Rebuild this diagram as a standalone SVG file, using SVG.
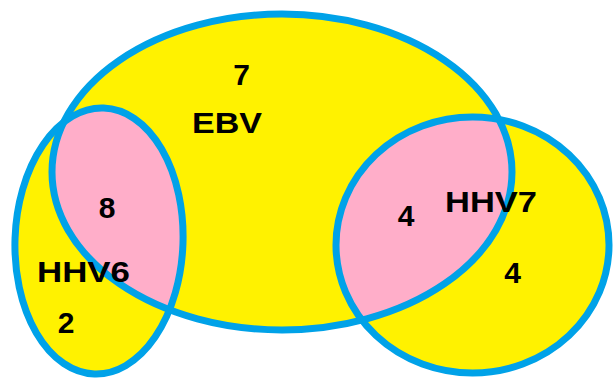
<svg xmlns="http://www.w3.org/2000/svg" width="613" height="379" viewBox="0 0 613 379">
<style>
.ol{fill:none;stroke:#00A2E8;stroke-width:7}
.y{fill:#FFF200}
.p{fill:#FFAEC9}
text{font-family:"Liberation Sans",Arial,sans-serif;font-weight:bold;font-size:30px;fill:#000}
</style>
<defs>
<clipPath id="ebvClip"><ellipse cx="282" cy="172" rx="230" ry="158"/></clipPath>
</defs>
<rect width="613" height="379" fill="#fff"/>
<g id="fills">
<ellipse class="y" cx="282" cy="172" rx="230" ry="158"/>
<ellipse class="y" cx="99" cy="241" rx="84" ry="133" transform="rotate(2 99 241)"/>
<ellipse class="y" cx="472.5" cy="245" rx="136.5" ry="128"/>
<g clip-path="url(#ebvClip)">
<ellipse class="p" cx="99" cy="241" rx="84" ry="133" transform="rotate(2 99 241)"/>
<ellipse class="p" cx="472.5" cy="245" rx="136.5" ry="128"/>
</g>
</g>
<g id="ebv">
<ellipse class="ol" cx="282" cy="172" rx="230" ry="158"/>
<text x="241.5" y="85" text-anchor="middle">7</text>
<text x="192" y="133" textLength="70" lengthAdjust="spacingAndGlyphs">EBV</text>
</g>
<g id="hhv6">
<ellipse class="ol" cx="99" cy="241" rx="84" ry="133" transform="rotate(2 99 241)"/>
<text x="107" y="218" text-anchor="middle">8</text>
<text x="37" y="282" textLength="93" lengthAdjust="spacingAndGlyphs">HHV6</text>
<text x="66" y="333" text-anchor="middle">2</text>
</g>
<g id="hhv7">
<ellipse class="ol" cx="472.5" cy="245" rx="136.5" ry="128"/>
<text x="406" y="226" text-anchor="middle">4</text>
<text x="445" y="212" textLength="92" lengthAdjust="spacingAndGlyphs">HHV7</text>
<text x="512.5" y="283" text-anchor="middle">4</text>
</g>
<g id="connectors"/>
</svg>
